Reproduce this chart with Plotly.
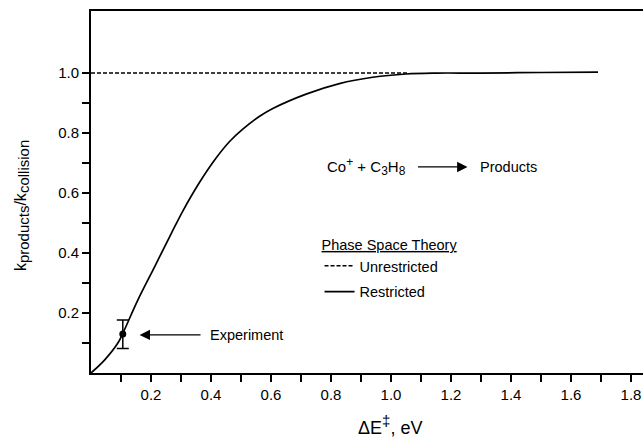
import plotly.graph_objects as go

# ---- data ----
energy_restricted = [0, 0.045, 0.089, 0.106, 0.156, 0.212, 0.267, 0.306, 0.362, 0.417,
                     0.462, 0.506, 0.562, 0.606, 0.717, 0.828, 0.939, 1.05, 1.15, 1.3,
                     1.5, 1.69]
k_restricted = [0, 0.043, 0.099, 0.132, 0.243, 0.354, 0.464, 0.54, 0.636, 0.717,
                0.772, 0.813, 0.856, 0.882, 0.93, 0.965, 0.986, 0.997, 1.0, 1.0,
                1.002, 1.003]
energy_unrestricted = [0, 1.06]
k_unrestricted = [1.0, 1.0]
exp_energy = [0.106]
exp_k = [0.13]
exp_err_plus = [0.047]
exp_err_minus = [0.048]

x_tickvals = [round(0.1 * i, 1) for i in range(1, 19)]
x_ticktext = [f"{v:.1f}" if i % 2 == 1 else "" for i, v in enumerate(x_tickvals)]
y_tickvals = [round(0.1 * i, 1) for i in range(1, 11)]
y_ticktext = [f"{v:.1f}" if i % 2 == 1 else "" for i, v in enumerate(y_tickvals)]

FONT = "Liberation Sans, Arial, Helvetica, sans-serif"

fig = go.Figure()
fig.add_trace(go.Scatter(x=energy_unrestricted, y=k_unrestricted, mode="lines",
                         name="Unrestricted", legendgroup="u",
                         line=dict(color="black", width=1.5, dash="4px,2px")))
fig.add_trace(go.Scatter(x=energy_restricted, y=k_restricted, mode="lines",
                         name="Restricted", legendgroup="r",
                         line=dict(color="black", width=1.7, shape="spline", smoothing=1.0)))
fig.add_trace(go.Scatter(x=exp_energy, y=exp_k, mode="markers", showlegend=False,
                         marker=dict(color="black", size=7),
                         error_y=dict(type="data", array=exp_err_plus, arrayminus=exp_err_minus,
                                      color="black", thickness=1.5, width=6)))

fig.update_layout(
    width=643, height=447,
    margin=dict(l=91, r=0, t=11, b=74),
    paper_bgcolor="white", plot_bgcolor="white",
    font=dict(family=FONT, color="black", size=14),
    showlegend=True,
    legend=dict(x=0.414, y=0.392, xanchor="left", yanchor="top",
                bgcolor="rgba(0,0,0,0)", borderwidth=0,
                title=dict(text="<u>Phase Space Theory</u>", font=dict(size=14.5)),
                font=dict(size=14.5), tracegroupgap=4, itemwidth=30),
    xaxis=dict(range=[0, 1.84], showgrid=False, zeroline=False,
               showline=True, linecolor="black", linewidth=2, mirror=True,
               ticks="outside", ticklen=7, tickwidth=1.5, tickcolor="black",
               tickvals=x_tickvals, ticktext=x_ticktext, tickfont=dict(size=15)),
    yaxis=dict(range=[0, 1.207], showgrid=False, zeroline=False,
               showline=True, linecolor="black", linewidth=2,
               ticks="outside", ticklen=7, tickwidth=1.5, tickcolor="black",
               tickvals=y_tickvals, ticktext=y_ticktext, tickfont=dict(size=15)),
)

# axis titles
fig.add_annotation(
    text="k<sub><span style='font-size:15px'>products</span></sub>/k<sub><span style='font-size:15px'>collision</span></sub>",
    xref="paper", yref="paper", x=-0.125, y=0.461, xanchor="center", yanchor="middle",
    textangle=-90, showarrow=False, font=dict(size=16))
fig.add_annotation(text="\u0394E<sup><span style='font-size:15px'>\u2021</span></sup>, eV",
                   xref="paper", yref="paper", x=0.542, y=-0.145,
                   xanchor="center", yanchor="middle", showarrow=False, font=dict(size=18))

# reaction label
fig.add_annotation(
    text="Co<sup><span style='font-size:12px'>+</span></sup> + C<sub><span style='font-size:12px'>3</span></sub>H<sub><span style='font-size:12px'>8</span></sub>",
    x=0.78, y=0.687, xanchor="left", showarrow=False, font=dict(size=15))
fig.add_annotation(x=1.255, y=0.687, ax=1.085, ay=0.687, axref="x", ayref="y",
                   text="", showarrow=True, arrowhead=2, arrowsize=1.6, arrowwidth=1.3,
                   arrowcolor="black")
fig.add_annotation(text="Products", x=1.29, y=0.687, xanchor="left", showarrow=False,
                   font=dict(size=14.5))

# experiment label
fig.add_annotation(x=0.162, y=0.127, ax=0.37, ay=0.127, axref="x", ayref="y",
                   text="", showarrow=True, arrowhead=2, arrowsize=1.6, arrowwidth=1.3,
                   arrowcolor="black")
fig.add_annotation(text="Experiment", x=0.39, y=0.127, xanchor="left", showarrow=False,
                   font=dict(size=14.5))

fig.write_html("out.html")
